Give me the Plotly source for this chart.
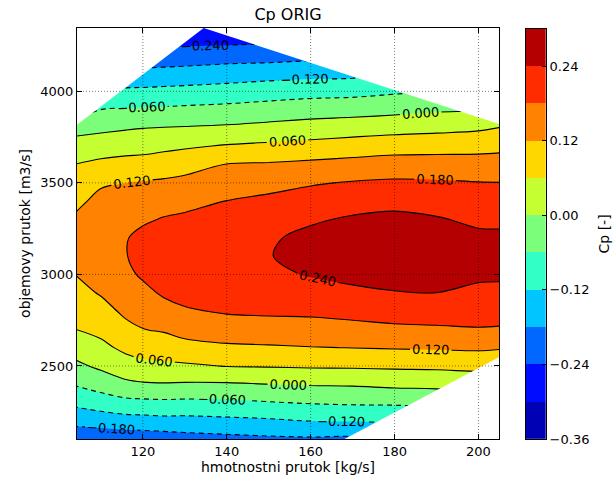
import plotly.graph_objects as go

# ---- data ----
mass_flow = [104, 110, 116, 120, 125, 130, 140, 150, 160, 170, 180, 190, 200, 205]          # kg/s
vol_flow = [2100, 2200, 2300, 2400, 2500, 2600, 2700, 2800, 2900, 3000, 3100, 3200,
            3300, 3400, 3500, 3600, 3700, 3800, 3900, 4000, 4100, 4200, 4300, 4400]     # m3/s

cp_2100 = [-0.221, -0.223, -0.219, -0.215, -0.211, -0.204, -0.197, -0.191, -0.188, -0.191, -0.170, -0.160, -0.150, -0.140]
cp_2200 = [-0.162, -0.153, -0.144, -0.142, -0.138, -0.138, -0.133, -0.128, -0.119, -0.117, -0.114, -0.104, -0.090, -0.080]
cp_2300 = [-0.106, -0.090, -0.076, -0.074, -0.071, -0.073, -0.071, -0.063, -0.056, -0.052, -0.051, -0.045, -0.030, -0.020]
cp_2400 = [-0.055, -0.035, -0.012, -0.006, -0.004, -0.006, -0.006, 0.000, 0.004, 0.006, 0.013, 0.015, 0.022, 0.025]
cp_2500 = [-0.012, 0.011, 0.035, 0.045, 0.049, 0.052, 0.062, 0.064, 0.067, 0.068, 0.070, 0.072, 0.076, 0.073]
cp_2600 = [0.025, 0.046, 0.073, 0.084, 0.090, 0.101, 0.111, 0.114, 0.118, 0.121, 0.124, 0.126, 0.129, 0.125]
cp_2700 = [0.060, 0.075, 0.105, 0.119, 0.126, 0.140, 0.150, 0.153, 0.157, 0.162, 0.169, 0.172, 0.177, 0.175]
cp_2800 = [0.080, 0.099, 0.132, 0.142, 0.159, 0.174, 0.186, 0.190, 0.191, 0.198, 0.205, 0.208, 0.203, 0.203]
cp_2900 = [0.101, 0.125, 0.152, 0.165, 0.188, 0.198, 0.207, 0.210, 0.218, 0.231, 0.238, 0.240, 0.227, 0.228]
cp_3000 = [0.121, 0.145, 0.168, 0.188, 0.201, 0.214, 0.225, 0.228, 0.244, 0.252, 0.257, 0.262, 0.251, 0.248]
cp_3100 = [0.150, 0.168, 0.178, 0.199, 0.210, 0.222, 0.235, 0.238, 0.256, 0.267, 0.276, 0.279, 0.262, 0.260]
cp_3200 = [0.155, 0.173, 0.177, 0.195, 0.202, 0.212, 0.228, 0.233, 0.254, 0.265, 0.274, 0.272, 0.252, 0.252]
cp_3300 = [0.130, 0.160, 0.163, 0.172, 0.184, 0.190, 0.210, 0.220, 0.233, 0.247, 0.255, 0.245, 0.229, 0.227]
cp_3400 = [0.105, 0.138, 0.143, 0.148, 0.157, 0.164, 0.181, 0.192, 0.205, 0.217, 0.222, 0.216, 0.205, 0.204]
cp_3500 = [0.083, 0.112, 0.120, 0.124, 0.129, 0.135, 0.152, 0.162, 0.175, 0.184, 0.189, 0.187, 0.182, 0.181]
cp_3600 = [0.061, 0.073, 0.080, 0.083, 0.090, 0.099, 0.122, 0.126, 0.133, 0.140, 0.146, 0.147, 0.144, 0.145]
cp_3700 = [0.025, 0.032, 0.038, 0.040, 0.047, 0.053, 0.065, 0.072, 0.079, 0.088, 0.096, 0.098, 0.102, 0.106]
cp_3800 = [-0.020, -0.012, -0.005, -0.001, 0.002, 0.004, 0.009, 0.017, 0.025, 0.032, 0.039, 0.045, 0.052, 0.061]
cp_3900 = [-0.108, -0.060, -0.055, -0.053, -0.051, -0.048, -0.043, -0.035, -0.027, -0.023, -0.016, -0.007, -0.003, 0.010]
cp_4000 = [-0.170, -0.120, -0.110, -0.108, -0.105, -0.102, -0.096, -0.088, -0.081, -0.078, -0.068, -0.060, -0.055, -0.040]
cp_4100 = [-0.230, -0.180, -0.163, -0.165, -0.162, -0.159, -0.151, -0.144, -0.139, -0.137, -0.120, -0.120, -0.110, -0.100]
cp_4200 = [-0.280, -0.240, -0.220, -0.220, -0.218, -0.215, -0.209, -0.208, -0.200, -0.200, -0.180, -0.180, -0.170, -0.160]
cp_4300 = [-0.280, -0.280, -0.270, -0.270, -0.270, -0.269, -0.269, -0.260, -0.250, -0.250, -0.240, -0.240, -0.230, -0.220]
cp_4400 = [-0.285, -0.285, -0.285, -0.285, -0.285, -0.285, -0.285, -0.285, -0.285, -0.285, -0.285, -0.285, -0.280, -0.270]

cp_rows = [cp_2100, cp_2200, cp_2300, cp_2400, cp_2500, cp_2600, cp_2700, cp_2800,
           cp_2900, cp_3000, cp_3100, cp_3200, cp_3300, cp_3400, cp_3500, cp_3600,
           cp_3700, cp_3800, cp_3900, cp_4000, cp_4100, cp_4200, cp_4300, cp_4400]

# measured domain (hexagon) corners: (mass flow, volume flow)
domain_left = (104.3, 3817)
domain_top = (134.5, 4346)
domain_right_top = (204.9, 3821)
domain_right_bottom = (204.9, 2547)
domain_bottom = (168.0, 2100)

levels = [-0.36, -0.30, -0.24, -0.18, -0.12, -0.06, 0.00, 0.06, 0.12, 0.18, 0.24, 0.30]
band_colors = ["#0000B4", "#000CFF", "#0068FF", "#00C5FF", "#31FFC6", "#7BFF7B",
               "#C6FF31", "#FFD700", "#FF8200", "#FF2C00", "#B40000"]
cbar_ticks = [-0.36, -0.24, -0.12, 0.00, 0.12, 0.24]
x_ticks = [120, 140, 160, 180, 200]
y_ticks = [2500, 3000, 3500, 4000]

FONT = "DejaVu Sans"
step = 0.06
n_bands = len(band_colors)

# contour colorscale: plotly samples band k at s=(k+1)/12
nlev = len(levels)
cs_contour = [[0.0, band_colors[0]], [1.5 / nlev, band_colors[0]]]
for k in range(1, n_bands - 1):
    cs_contour.append([(k + 0.5) / nlev, band_colors[k]])
    cs_contour.append([(k + 1.5) / nlev, band_colors[k]])
cs_contour.append([(n_bands - 0.5) / nlev, band_colors[-1]])
cs_contour.append([1.0, band_colors[-1]])

# colorbar colorscale: 11 equal bins
cs_bar = []
for k, c in enumerate(band_colors):
    cs_bar.append([k / n_bands, c])
    cs_bar.append([(k + 1) / n_bands, c])

fig = go.Figure()

fig.add_trace(go.Contour(
    x=mass_flow, y=vol_flow, z=cp_rows,
    autocontour=False,
    contours=dict(start=levels[0], end=levels[-1], size=step, coloring="fill", showlines=False),
    colorscale=cs_contour, showscale=False, line=dict(width=0), hoverinfo="skip",
))

label_font = dict(family=FONT, size=13, color="black")
fig.add_trace(go.Contour(
    x=mass_flow, y=vol_flow, z=cp_rows,
    autocontour=False,
    contours=dict(start=-0.30, end=-0.06, size=step, coloring="none", showlabels=True,
                  labelfont=label_font, labelformat=".3f"),
    line=dict(color="black", width=1.1, dash="5px,4px"), showscale=False, hoverinfo="skip",
))
fig.add_trace(go.Contour(
    x=mass_flow, y=vol_flow, z=cp_rows,
    autocontour=False,
    contours=dict(start=0.0, end=0.30, size=step, coloring="none", showlabels=True,
                  labelfont=label_font, labelformat=".3f"),
    line=dict(color="black", width=1.1), showscale=False, hoverinfo="skip",
))


def along(p, q, t):
    return (p[0] + t * (q[0] - p[0]), p[1] + t * (q[1] - p[1]))


def corner_mask(p, q, x_side, y_side):
    a = along(p, q, -0.3)
    b = along(p, q, 1.3)
    cx = a[0] if x_side == "a" else b[0]
    cy = a[1] if y_side == "a" else b[1]
    return [a[0], b[0], cx, a[0]], [a[1], b[1], cy, a[1]]


masks = [
    corner_mask(domain_left, domain_top, "a", "b"),
    corner_mask(domain_top, domain_right_top, "b", "a"),
    corner_mask(domain_bottom, domain_right_bottom, "b", "a"),
]
for mx, my in masks:
    fig.add_trace(go.Scatter(x=mx, y=my, mode="lines", fill="toself", fillcolor="white",
                             line=dict(width=0, color="white"), hoverinfo="skip", showlegend=False))

# colorbar as its own small axis
mids = [(levels[i] + levels[i + 1]) / 2 for i in range(n_bands)]
fig.add_trace(go.Heatmap(
    x=[0, 1], y=levels, z=[[m] for m in mids], xaxis="x2", yaxis="y2",
    colorscale=cs_bar, zmin=levels[0], zmax=levels[-1], showscale=False, hoverinfo="skip",
))

grid_line = dict(color="rgba(0,0,0,0.5)", width=1, dash="1px,2px")
shapes = []
for v in x_ticks:
    shapes.append(dict(type="line", xref="x", yref="y domain", x0=v, x1=v, y0=0, y1=1,
                       line=grid_line, layer="above"))
for v in y_ticks:
    shapes.append(dict(type="line", xref="x domain", yref="y", x0=0, x1=1, y0=v, y1=v,
                       line=grid_line, layer="above"))

W, H = 614, 483
ml, mr, mt, mb = 77, 68, 28, 44
pw = W - ml - mr
main_right = (499 - ml) / pw
cbar_left = (525.7 - ml) / pw

fig.update_layout(
    width=W, height=H,
    margin=dict(l=ml, r=mr, t=mt, b=mb, autoexpand=False),
    paper_bgcolor="white", plot_bgcolor="white",
    font=dict(family=FONT, size=13, color="black"),
    showlegend=False,
    shapes=shapes,
    title=dict(text="Cp ORIG", x=288 / W, xref="container", xanchor="center",
               y=1 - 14 / H, yref="container", yanchor="middle",
               font=dict(family=FONT, size=16, color="black")),
    xaxis=dict(domain=[0, main_right], range=[104.3, 204.9], tickvals=x_ticks,
               ticks="inside", ticklen=5, tickcolor="black", showline=True, linecolor="black",
               linewidth=1, mirror="ticks", showgrid=False, zeroline=False, automargin=False,
               title=dict(text="hmotnostni prutok [kg/s]", font=dict(size=14), standoff=4)),
    yaxis=dict(domain=[0, 1], range=[2101, 4346], tickvals=y_ticks,
               ticks="inside", ticklen=5, tickcolor="black", showline=True, linecolor="black",
               linewidth=1, mirror="ticks", showgrid=False, zeroline=False, automargin=False,
               title=dict(text="objemovy prutok [m3/s]", font=dict(size=14), standoff=6)),
    xaxis2=dict(domain=[cbar_left, 1], range=[0, 1], anchor="y2", showticklabels=False,
                ticks="", showgrid=False, zeroline=False, showline=True, linecolor="black",
                mirror=True, automargin=False),
    yaxis2=dict(domain=[0, 0.998], range=[levels[0], levels[-1]], anchor="x2", side="right",
                tickvals=cbar_ticks, ticktext=[f"{v:.2f}".replace("-", "\u2212") for v in cbar_ticks],
                ticks="inside", ticklen=4, tickcolor="black", showgrid=False, zeroline=False,
                showline=True, linecolor="black", mirror=True, automargin=False,
                title=dict(text="Cp [-]", font=dict(size=14), standoff=10)),
)

fig.write_html("out.html")
